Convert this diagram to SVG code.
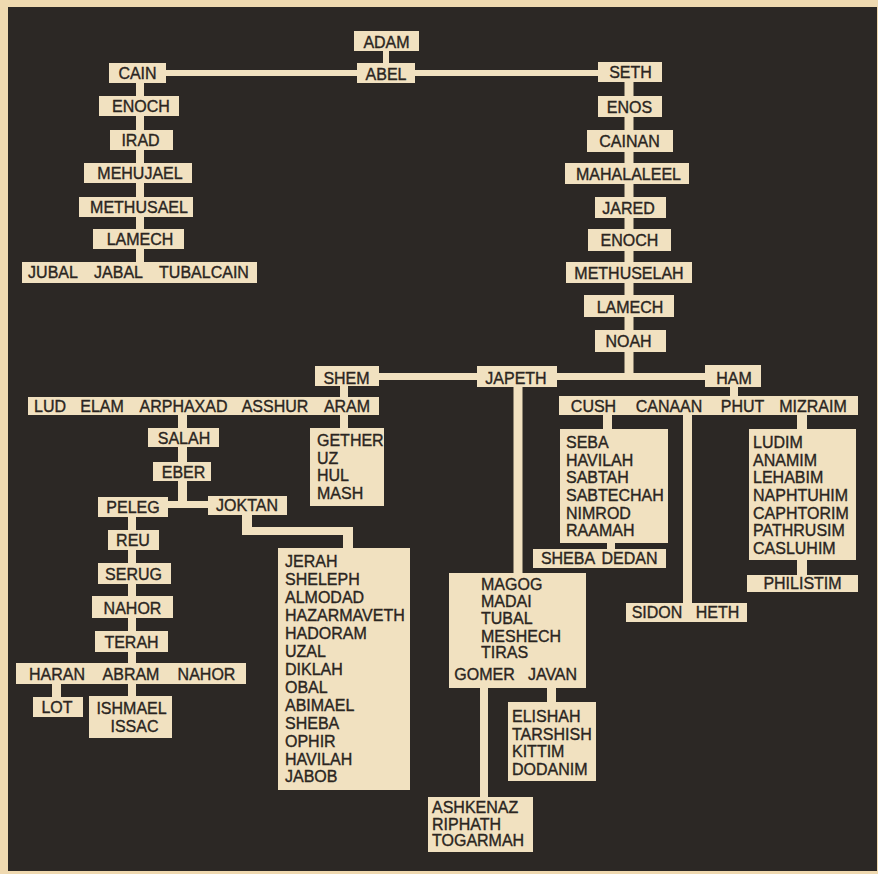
<svg xmlns="http://www.w3.org/2000/svg" width="878" height="874" viewBox="0 0 878 874">
<style>
.bx{fill:#f1e1c0}
.cn rect{fill:#f1e1c0}
text{font-family:"Liberation Sans",Arial,sans-serif;font-size:16px;fill:#2a2521;stroke:#2a2521;stroke-width:0.35}
.m{text-anchor:middle}
</style>
<rect x="0" y="0" width="878" height="874" fill="#efd9b0"/>
<rect x="8" y="7" width="869" height="864" fill="#2c2825"/>
<g id="connectors" class="cn">
<rect x="383" y="51" width="6" height="12"/>
<rect x="166" y="70" width="432" height="6"/>
<rect x="136" y="83" width="8" height="179"/>
<rect x="624.5" y="82" width="9" height="294"/>
<rect x="379" y="373" width="326" height="7"/>
<rect x="340" y="386" width="8" height="11"/>
<rect x="340" y="415" width="8" height="13"/>
<rect x="178" y="415" width="9" height="93"/>
<rect x="168" y="501" width="40" height="7"/>
<rect x="242" y="515" width="10" height="20"/>
<rect x="242" y="527" width="111" height="8"/>
<rect x="343" y="527" width="10" height="21"/>
<rect x="128" y="517" width="8" height="146"/>
<rect x="52" y="684" width="9" height="13"/>
<rect x="128" y="684" width="8" height="12"/>
<rect x="730" y="387" width="8" height="9"/>
<rect x="513.5" y="387" width="9" height="186"/>
<rect x="603" y="415" width="9" height="14"/>
<rect x="607" y="543" width="8" height="6"/>
<rect x="683" y="415" width="9" height="188"/>
<rect x="797" y="415" width="10" height="14"/>
<rect x="797" y="560" width="10" height="15"/>
<rect x="547" y="688" width="9" height="14"/>
<rect x="480" y="688" width="8" height="109"/>
</g>
<g id="adam"><rect class="bx" x="354" y="31" width="65" height="20"/><text class="m" x="386.5" y="47.5">ADAM</text></g>
<g id="abel"><rect class="bx" x="357" y="63" width="58" height="20"/><text class="m" x="386" y="79.5">ABEL</text></g>
<g id="cain"><rect class="bx" x="109" y="63" width="57" height="20"/><text class="m" x="137.5" y="79">CAIN</text></g>
<g id="enoch-c"><rect class="bx" x="99" y="96" width="80" height="20"/><text class="m" x="141" y="112">ENOCH</text></g>
<g id="irad"><rect class="bx" x="110" y="130" width="63" height="20"/><text class="m" x="140.5" y="146">IRAD</text></g>
<g id="mehujael"><rect class="bx" x="84" y="163" width="108" height="20"/><text class="m" x="140" y="179">MEHUJAEL</text></g>
<g id="methusael"><rect class="bx" x="79" y="197" width="114" height="20"/><text class="m" x="139" y="213">METHUSAEL</text></g>
<g id="lamech-c"><rect class="bx" x="93" y="229" width="91" height="20"/><text class="m" x="140" y="245">LAMECH</text></g>
<g id="jubal-jabal-tubalcain"><rect class="bx" x="22" y="262" width="235" height="21"/><text class="m" x="53" y="278">JUBAL</text><text class="m" x="118.5" y="278">JABAL</text><text class="m" x="204" y="278">TUBALCAIN</text></g>
<g id="seth"><rect class="bx" x="598" y="62" width="64" height="20"/><text class="m" x="630.5" y="77.5">SETH</text></g>
<g id="enos"><rect class="bx" x="598" y="96" width="64" height="21"/><text class="m" x="629.5" y="112.5">ENOS</text></g>
<g id="cainan"><rect class="bx" x="587" y="130" width="86" height="22"/><text class="m" x="629.5" y="147">CAINAN</text></g>
<g id="mahalaleel"><rect class="bx" x="565" y="163" width="124" height="21"/><text class="m" x="628.5" y="179.5">MAHALALEEL</text></g>
<g id="jared"><rect class="bx" x="595" y="197" width="71" height="21"/><text class="m" x="628.5" y="213.5">JARED</text></g>
<g id="enoch-s"><rect class="bx" x="588" y="229" width="83" height="22"/><text class="m" x="629.5" y="245.5">ENOCH</text></g>
<g id="methuselah"><rect class="bx" x="566" y="262" width="126" height="21"/><text class="m" x="629" y="278.5">METHUSELAH</text></g>
<g id="lamech-s"><rect class="bx" x="584" y="295" width="90" height="22"/><text class="m" x="630" y="312.5">LAMECH</text></g>
<g id="noah"><rect class="bx" x="595" y="330" width="71" height="22"/><text class="m" x="628.5" y="347">NOAH</text></g>
<g id="shem"><rect class="bx" x="315" y="366" width="64" height="20"/><text class="m" x="346.5" y="384">SHEM</text></g>
<g id="japeth"><rect class="bx" x="477" y="366" width="80" height="21"/><text class="m" x="516" y="383.5">JAPETH</text></g>
<g id="ham"><rect class="bx" x="705" y="365" width="56" height="22"/><text class="m" x="734" y="383.5">HAM</text></g>
<g id="lud-elam-arphaxad-asshur-aram"><rect class="bx" x="28" y="397" width="351" height="18"/><text class="m" x="50" y="412">LUD</text><text class="m" x="102" y="412">ELAM</text><text class="m" x="183.5" y="412">ARPHAXAD</text><text class="m" x="275" y="412">ASSHUR</text><text class="m" x="347" y="412">ARAM</text></g>
<g id="gether-uz-hul-mash"><rect class="bx" x="310" y="428" width="74" height="78"/><text x="317" y="446">GETHER</text><text x="317" y="463.5">UZ</text><text x="317" y="481">HUL</text><text x="317" y="498.5">MASH</text></g>
<g id="salah"><rect class="bx" x="148" y="428" width="71" height="19"/><text class="m" x="184" y="443.5">SALAH</text></g>
<g id="eber"><rect class="bx" x="153" y="462" width="58" height="19"/><text class="m" x="183.5" y="477.5">EBER</text></g>
<g id="peleg"><rect class="bx" x="98" y="497" width="70" height="20"/><text class="m" x="133" y="513">PELEG</text></g>
<g id="joktan"><rect class="bx" x="208" y="496" width="79" height="19"/><text class="m" x="247" y="510.5">JOKTAN</text></g>
<g id="reu"><rect class="bx" x="108" y="530" width="51" height="20"/><text class="m" x="133" y="546">REU</text></g>
<g id="serug"><rect class="bx" x="98" y="563" width="73" height="21"/><text class="m" x="133.5" y="580">SERUG</text></g>
<g id="nahor"><rect class="bx" x="92" y="596" width="81" height="22"/><text class="m" x="132.5" y="613.5">NAHOR</text></g>
<g id="terah"><rect class="bx" x="95" y="631" width="73" height="21"/><text class="m" x="131.5" y="647.5">TERAH</text></g>
<g id="haran-abram-nahor"><rect class="bx" x="16" y="663" width="230" height="21"/><text class="m" x="57" y="680">HARAN</text><text class="m" x="131" y="680">ABRAM</text><text class="m" x="206.5" y="680">NAHOR</text></g>
<g id="lot"><rect class="bx" x="33" y="697" width="50" height="20"/><text class="m" x="57" y="713">LOT</text></g>
<g id="ishmael-issac"><rect class="bx" x="89" y="696" width="83" height="42"/><text class="m" x="131.5" y="713.5">ISHMAEL</text><text class="m" x="134.5" y="731.5">ISSAC</text></g>
<g id="jerah-group"><rect class="bx" x="278" y="548" width="132" height="242"/>
<text x="285" y="567">JERAH</text><text x="285" y="585">SHELEPH</text><text x="285" y="603">ALMODAD</text><text x="285" y="621">HAZARMAVETH</text><text x="285" y="639">HADORAM</text><text x="285" y="657">UZAL</text><text x="285" y="675">DIKLAH</text><text x="285" y="693">OBAL</text><text x="285" y="711">ABIMAEL</text><text x="285" y="729">SHEBA</text><text x="285" y="747">OPHIR</text><text x="285" y="764.5">HAVILAH</text><text x="285" y="782">JABOB</text></g>
<g id="cush-canaan-phut-mizraim"><rect class="bx" x="559" y="396" width="299" height="19"/><text class="m" x="593.5" y="412">CUSH</text><text class="m" x="669" y="412">CANAAN</text><text class="m" x="742.5" y="412">PHUT</text><text class="m" x="813" y="412">MIZRAIM</text></g>
<g id="seba-group"><rect class="bx" x="560" y="429" width="108" height="114"/>
<text x="566" y="448">SEBA</text><text x="566" y="465.5">HAVILAH</text><text x="566" y="483">SABTAH</text><text x="566" y="500.5">SABTECHAH</text><text x="566" y="518.5">NIMROD</text><text x="566" y="536">RAAMAH</text></g>
<g id="sheba-dedan"><rect class="bx" x="533" y="549" width="133" height="19"/><text class="m" x="568" y="564">SHEBA</text><text class="m" x="629.5" y="564">DEDAN</text></g>
<g id="ludim-group"><rect class="bx" x="749" y="429" width="107" height="131"/>
<text x="753" y="448">LUDIM</text><text x="753" y="465.5">ANAMIM</text><text x="753" y="483">LEHABIM</text><text x="753" y="501">NAPHTUHIM</text><text x="753" y="518.5">CAPHTORIM</text><text x="753" y="536">PATHRUSIM</text><text x="753" y="554">CASLUHIM</text></g>
<g id="philistim"><rect class="bx" x="747" y="575" width="111" height="17"/><text class="m" x="802.5" y="589">PHILISTIM</text></g>
<g id="sidon-heth"><rect class="bx" x="626" y="603" width="121" height="19"/><text class="m" x="657" y="618">SIDON</text><text class="m" x="717.5" y="618">HETH</text></g>
<g id="magog-group"><rect class="bx" x="449" y="573" width="137" height="115"/>
<text x="481" y="590">MAGOG</text><text x="481" y="607">MADAI</text><text x="481" y="624">TUBAL</text><text x="481" y="642">MESHECH</text><text x="481" y="658">TIRAS</text><text class="m" x="484.5" y="680">GOMER</text><text class="m" x="552.5" y="680">JAVAN</text></g>
<g id="elishah-group"><rect class="bx" x="508" y="702" width="88" height="79"/>
<text x="512" y="722">ELISHAH</text><text x="512" y="740">TARSHISH</text><text x="512" y="757">KITTIM</text><text x="512" y="775">DODANIM</text></g>
<g id="ashkenaz-group"><rect class="bx" x="428" y="797" width="105" height="55"/>
<text x="432" y="813">ASHKENAZ</text><text x="432" y="830">RIPHATH</text><text x="432" y="846">TOGARMAH</text></g>
</svg>
